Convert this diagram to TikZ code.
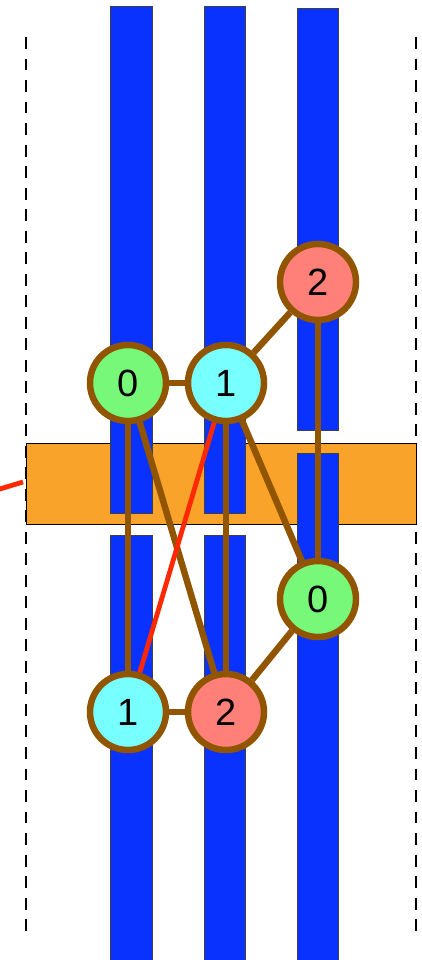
\documentclass[tikz,border=0pt]{standalone}
\usepackage{fontspec}
\setmainfont{Liberation Sans}
\definecolor{barblue}{RGB}{10,50,255}
\definecolor{bandorange}{RGB}{250,163,42}
\definecolor{edgebrown}{RGB}{145,85,0}
\definecolor{nodegreen}{RGB}{120,248,120}
\definecolor{nodecyan}{RGB}{120,255,255}
\definecolor{nodesalmon}{RGB}{255,128,120}
\definecolor{linkred}{RGB}{255,40,0}
\pgfdeclarelayer{under}
\pgfsetlayers{under,main}
\begin{document}
\begin{tikzpicture}[
            x=0.025cm, y=-0.025cm,
            bar/.style={fill=barblue, draw=black!75, line width=0.7pt},
            vertex/.style={circle, draw=edgebrown, line width=4.6pt, minimum size=1.9cm, inner sep=0pt, font=\fontsize{27}{31}\selectfont},
            link/.style={edgebrown, line width=4.6pt},
            redlink/.style={linkred, line width=3.4pt},
            guide/.style={dash pattern=on 8.5pt off 6.8pt, line width=1.8pt}
        ]
            \useasboundingbox (0,0) rectangle (421,960);

            \begin{pgfonlayer}{under}
            \draw[guide] (26,37) -- (26,935);
            \draw[guide] (416,37) -- (416,935);
            \draw[fill=bandorange, line width=0.7pt] (26,443) rectangle (416,524);

            \draw[bar] (110,6) rectangle (152,513);
            \draw[bar] (110,535) rectangle (152,964);
            \draw[bar] (204,6) rectangle (245,513);
            \draw[bar] (204,535) rectangle (245,964);
            \draw[bar] (297,8) rectangle (338,430);
            \draw[bar] (297,453) rectangle (338,964);
            \end{pgfonlayer}

            \node[vertex, fill=nodegreen] (zeroL) at (128,383) {0};
            \node[vertex, fill=nodecyan] (oneL) at (226,383) {1};
            \node[vertex, fill=nodesalmon] (twoL) at (318,282) {2};
            \node[vertex, fill=nodegreen] (zeroR) at (318,599) {0};
            \node[vertex, fill=nodecyan] (oneR) at (128,712) {1};
            \node[vertex, fill=nodesalmon] (twoR) at (226,712) {2};

            \coordinate (redfar) at (-30,498);
            \coordinate (redend) at (23,482);

            \begin{pgfonlayer}{under}
            \draw[link] (zeroL) -- (oneL);
            \draw[link] (oneL) -- (twoL);
            \draw[link] (twoL) -- (zeroR);
            \draw[link] (zeroL) -- (oneR);
            \draw[link] (zeroL) -- (twoR);
            \draw[link] (oneL) -- (twoR);
            \draw[link] (oneL) -- (zeroR);
            \draw[link] (zeroR) -- (twoR);
            \draw[link] (oneR) -- (twoR);
            \draw[redlink] (oneL) -- (oneR);
            \draw[redlink] (redfar) -- (redend);
            \end{pgfonlayer}
        \end{tikzpicture}
\end{document}
